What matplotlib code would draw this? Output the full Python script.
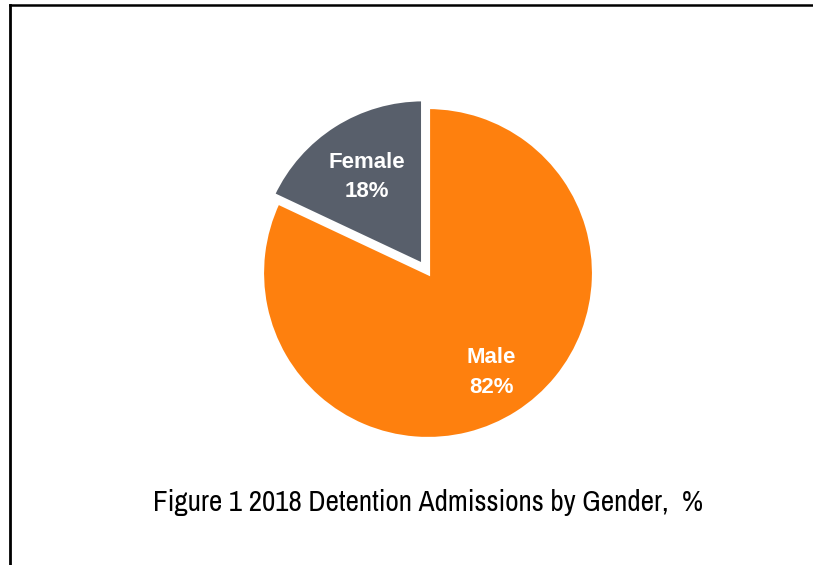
import matplotlib
matplotlib.use("Agg")
import matplotlib.pyplot as plt
from matplotlib.lines import Line2D
import numpy as np

# 2018 detention admissions, split by gender (percent)
genders = ["Female", "Male"]
shares = [18, 82]
colors = ["#585F6B", "#FE800E"]

title = "Figure 1 2018 Detention Admissions by Gender,  %"

W, H = 813, 565
R = 166                      # pie radius in pixels
explode = [0.055 * R, 0.0]   # pie() takes the offset in data units
label_dist = [0.63, 0.71]

fig = plt.figure(figsize=(W / 100, H / 100), dpi=100)
ax = fig.add_axes([0, 0, 1, 1])

wedges, _ = ax.pie(
    shares, colors=colors, explode=explode, startangle=90, counterclock=True,
    center=(428, H - 273), radius=R,
    wedgeprops=dict(edgecolor="white", linewidth=3),
)

# labels centred inside each wedge
for w, name, pct, d in zip(wedges, genders, shares, label_dist):
    mid = np.deg2rad((w.theta1 + w.theta2) / 2)
    cx, cy = w.center
    ax.text(cx + d * R * np.cos(mid), cy + d * R * np.sin(mid), f"{name}\n{pct}%",
            ha="center", va="center", color="white", fontsize=16,
            fontweight="bold", family=["Liberation Sans", "DejaVu Sans"],
            linespacing=1.55)

ax.set_xlim(0, W)
ax.set_ylim(0, H)
ax.set_aspect("auto")
ax.axis("off")

fig.text(428 / W, 1 - 503 / H, title, ha="center", va="center",
         fontsize=21, family=["Archivo Narrow", "Liberation Sans", "DejaVu Sans"])

# open frame: left and top borders only
fig.add_artist(Line2D([10 / W, 10 / W], [0, 1 - 5 / H], color="black", lw=2))
fig.add_artist(Line2D([10 / W, 1], [1 - 5 / H, 1 - 5 / H], color="black", lw=1.8))

fig.savefig("out.png", dpi=100, facecolor="white")
